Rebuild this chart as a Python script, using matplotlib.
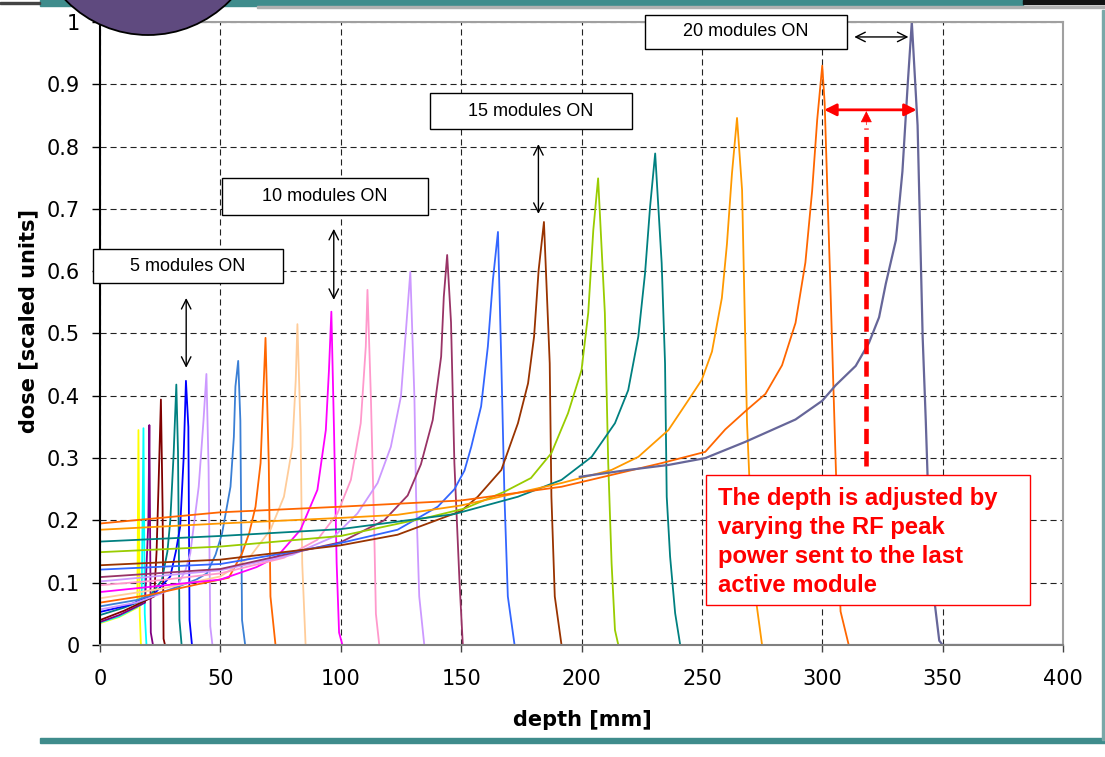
import matplotlib
matplotlib.use("Agg")
import matplotlib.pyplot as plt
from matplotlib.patches import Rectangle, Ellipse

# (depth [mm], dose) pairs, one list per curve
yellow = [(0, 0.035), (8, 0.045), (15.5, 0.06), (15.97, 0.345), (16.5, 0.05), (17, 0), (400, 0)]
cyan = [(0, 0.036), (8, 0.046), (17.3, 0.065), (18.05, 0.348), (18.6, 0.05), (19.3, 0), (400, 0)]
purple = [(0, 0.037), (8, 0.048), (18.7, 0.068), (20.1, 0.2), (20.5, 0.353), (21.1, 0.02), (22, 0), (400, 0)]
maroon = [(0, 0.04), (10, 0.055), (22.5, 0.078), (23.5, 0.15), (24.3, 0.254), (25.3, 0.394),
          (26, 0.22), (26.4, 0.01), (27, 0), (400, 0)]
teal_a = [(0, 0.048), (10, 0.06), (20, 0.075), (25.7, 0.104), (28, 0.15), (29.2, 0.2), (30.6, 0.308),
          (31.7, 0.418), (32.4, 0.31), (33, 0.04), (33.9, 0), (400, 0)]
blue = [(0, 0.053), (12, 0.064), (22, 0.08), (29.2, 0.11), (31.5, 0.15), (33.3, 0.19), (34.7, 0.297),
        (35.7, 0.424), (36.7, 0.35), (37.2, 0.04), (38.2, 0), (400, 0)]
lavender = [(0, 0.057), (15, 0.068), (25, 0.082), (32, 0.094), (35.5, 0.12), (37.5, 0.147), (41, 0.254),
            (43, 0.361), (44.2, 0.435), (45.1, 0.285), (45.8, 0.03), (46.7, 0), (400, 0)]
steel = [(0, 0.062), (15, 0.072), (30, 0.09), (40, 0.105), (44.4, 0.115), (48, 0.145), (50.7, 0.179),
         (54.2, 0.254), (55.6, 0.334), (56.25, 0.415), (57.4, 0.456), (58.3, 0.36), (59, 0.04),
         (60.3, 0), (400, 0)]
dkorange = [(0, 0.068), (20, 0.08), (40, 0.097), (53.5, 0.108), (59, 0.147), (62, 0.18), (64.6, 0.222),
            (66.7, 0.292), (68, 0.42), (68.75, 0.493), (70.1, 0.292), (70.8, 0.078), (72.9, 0), (400, 0)]
peach = [(0, 0.075), (25, 0.09), (50, 0.11), (62, 0.14), (70.8, 0.185), (76.4, 0.238), (79.9, 0.318),
         (81.3, 0.425), (82, 0.515), (83.3, 0.345), (84, 0.131), (85.4, 0), (400, 0)]
magenta = [(0, 0.085), (25, 0.095), (50, 0.105), (65, 0.125), (73.6, 0.142), (83.3, 0.185), (90.3, 0.249),
           (93.8, 0.345), (95.1, 0.441), (96.1, 0.535), (97.2, 0.345), (98.3, 0.131), (99.3, 0.02),
           (100.7, 0), (400, 0)]
pink = [(0, 0.096), (25, 0.104), (50, 0.115), (76.4, 0.14), (90.3, 0.169), (98.6, 0.211), (104.2, 0.265),
        (108.3, 0.356), (110.4, 0.479), (111.1, 0.57), (112.5, 0.4), (113.9, 0.185), (114.6, 0.05),
        (116, 0), (400, 0)]
lilac = [(0, 0.102), (50, 0.12), (80, 0.145), (97.2, 0.174), (106.9, 0.211), (115.3, 0.26), (120.8, 0.318),
         (125, 0.399), (127.1, 0.506), (128.9, 0.599), (130.6, 0.397), (131.3, 0.238), (132.6, 0.078),
         (134.7, 0), (400, 0)]
plum = [(0, 0.109), (50, 0.122), (100, 0.165), (118, 0.2), (127.8, 0.24), (133.3, 0.29), (138.2, 0.361),
        (141.7, 0.463), (142.8, 0.559), (144.2, 0.626), (145.8, 0.518), (147.2, 0.292), (149.3, 0.104),
        (150.7, 0), (400, 0)]
royal = [(0, 0.121), (50, 0.13), (95.8, 0.16), (123.6, 0.185), (140.3, 0.222), (147.2, 0.25), (151.4, 0.28),
         (154.2, 0.318), (158.3, 0.383), (161.1, 0.479), (163.2, 0.586), (165.3, 0.663), (166.7, 0.452),
         (168, 0.238), (169.4, 0.078), (172.2, 0), (400, 0)]
brown = [(0, 0.128), (50, 0.137), (100, 0.16), (123.6, 0.177), (150, 0.215), (156.9, 0.238), (166.7, 0.281),
         (173.6, 0.356), (177.8, 0.42), (180.3, 0.495), (182.2, 0.602), (184.4, 0.679), (186.8, 0.452),
         (187.5, 0.238), (188.9, 0.078), (191.7, 0), (400, 0)]
ygreen = [(0, 0.149), (50, 0.158), (100, 0.175), (137.5, 0.206), (151.4, 0.219), (168, 0.246), (179, 0.268),
          (187.5, 0.308), (194.4, 0.372), (200, 0.441), (202.8, 0.533), (204.9, 0.666), (206.9, 0.749),
          (209.7, 0.533), (211.1, 0.292), (212.5, 0.131), (213.9, 0.024), (215.3, 0), (400, 0)]
teal_b = [(0, 0.166), (50, 0.175), (100, 0.186), (147, 0.21), (173.6, 0.238), (191.7, 0.265), (204.2, 0.302),
          (213.9, 0.356), (219.4, 0.409), (223.6, 0.495), (226.4, 0.597), (228.5, 0.704), (230.6, 0.789),
          (233.3, 0.613), (234.7, 0.452), (235.4, 0.238), (236.8, 0.142), (238.9, 0.051), (241, 0), (400, 0)]
orange = [(0, 0.185), (50, 0.195), (100, 0.204), (123.6, 0.209), (150, 0.224), (191.7, 0.26), (212.5, 0.281),
          (223.6, 0.302), (236.1, 0.345), (244.4, 0.393), (250, 0.426), (254.2, 0.471), (258.3, 0.557),
          (260.4, 0.643), (262.5, 0.757), (264.6, 0.846), (266.7, 0.73), (267.8, 0.53), (268.75, 0.357),
          (269.7, 0.27), (271.5, 0.1), (275, 0), (400, 0)]
orangered = [(0, 0.195), (50, 0.213), (100, 0.222), (150, 0.232), (191.7, 0.254), (212.5, 0.273),
             (233.3, 0.292), (251.4, 0.31), (259.7, 0.346), (268, 0.375), (276.4, 0.403), (283.3, 0.449),
             (288.9, 0.517), (293, 0.614), (295.8, 0.729), (297.9, 0.843), (300, 0.93), (301, 0.87),
             (303.5, 0.56), (305.6, 0.29), (307.6, 0.054), (311, 0), (400, 0)]
slate = [(199.3, 0.27), (219.4, 0.281), (236.1, 0.289), (251.4, 0.3), (268, 0.326), (288.9, 0.362),
         (300, 0.392), (305.6, 0.417), (313.9, 0.448), (319.4, 0.485), (323.6, 0.526), (326.4, 0.58),
         (330.6, 0.65), (333.3, 0.76), (335.5, 0.9), (337.2, 1.0), (339.6, 0.834), (341.7, 0.495),
         (343, 0.36), (345, 0.122), (348.6, 0.007), (350, 0), (400, 0)]

curves = [yellow, cyan, purple, maroon, teal_a, blue, lavender, steel, dkorange, peach, magenta,
          pink, lilac, plum, royal, brown, ygreen, teal_b, orange, orangered, slate]
colors = ["#ffff00", "#00ffff", "#800080", "#800000", "#008080", "#0000ff", "#cc99ff", "#3a7fd5",
          "#ff6600", "#ffcc99", "#ff00ff", "#ff99cc", "#cc99ff", "#993366", "#3366ff", "#993300",
          "#99cc00", "#008080", "#ff9900", "#ff6600", "#666699"]

xticks = [0, 50, 100, 150, 200, 250, 300, 350, 400]
yticks = [0, 0.1, 0.2, 0.3, 0.4, 0.5, 0.6, 0.7, 0.8, 0.9, 1]
ylabels = ["0", "0.1", "0.2", "0.3", "0.4", "0.5", "0.6", "0.7", "0.8", "0.9", "1"]

W, H = 1105, 757
fig = plt.figure(figsize=(W / 100, H / 100), dpi=100)
ax = fig.add_axes([100 / W, 112 / H, 963 / W, 623 / H])

for pts, col in zip(curves, colors):
    d = [p[0] for p in pts]
    v = [p[1] for p in pts]
    ax.plot(d, v, color=col, lw=1.3 if col != "#666699" else 1.6)

ax.set_xlim(0, 400)
ax.set_ylim(0, 1)
ax.set_xticks(xticks)
ax.set_yticks(yticks)
ax.set_yticklabels(ylabels)
ax.set_axisbelow(True)
ax.grid(True, color="#222222", lw=0.8, linestyle=(0, (5.5, 3.5)))
ax.tick_params(axis="y", direction="out", length=6, width=1, pad=8.5, labelsize=15)
ax.tick_params(axis="x", direction="out", length=5, width=1, pad=12, labelsize=15, color="#444444")

ax.spines["left"].set_color("black")
ax.spines["left"].set_linewidth(1.5)
ax.spines["bottom"].set_color("#808080")
ax.spines["bottom"].set_linewidth(1.5)
for s in ["top", "right"]:
    ax.spines[s].set_color("#a0a0a0")
    ax.spines[s].set_linewidth(1.5)

fig.text(28 / W, 1 - 321 / H, "dose [scaled units]", rotation=90, ha="center", va="center",
         fontsize=15, fontweight="bold")
fig.text(582 / W, 1 - 720 / H, "depth [mm]", ha="center", va="center", fontsize=15, fontweight="bold")


# boxes placed in pixel coordinates of the slide
def box(x0, y0, x1, y1, label):
    fig.add_artist(Rectangle((x0 / W, 1 - y1 / H), (x1 - x0) / W, (y1 - y0) / H, transform=fig.transFigure,
                             facecolor="white", edgecolor="black", lw=1, zorder=5))
    fig.text((x0 + x1) / 2 / W, 1 - (y0 + y1) / 2 / H, label, ha="center", va="center",
             fontsize=13, family="Liberation Sans", zorder=6)


box(93, 249, 283, 283, "5 modules ON")
box(222, 178, 428, 215, "10 modules ON")
box(430, 93, 632, 129, "15 modules ON")
box(645, 15, 847, 49, "20 modules ON")

# black arrows
arr = dict(arrowstyle="<->", color="black", lw=1, mutation_scale=17, shrinkA=0, shrinkB=0)
ax.annotate("", xy=(35.8, 0.445), xytext=(35.8, 0.557), arrowprops=arr, annotation_clip=False)
ax.annotate("", xy=(97.1, 0.554), xytext=(97.1, 0.668), arrowprops=arr, annotation_clip=False)
ax.annotate("", xy=(182.1, 0.692), xytext=(182.1, 0.804), arrowprops=arr, annotation_clip=False)
ax.annotate("", xy=(335.8, 0.976), xytext=(313.3, 0.976), arrowprops=arr, annotation_clip=False)

# red arrows
ax.annotate("", xy=(339.2, 0.859), xytext=(300.8, 0.859),
            arrowprops=dict(arrowstyle="<|-|>", color="#ff0000", lw=2, mutation_scale=18,
                            shrinkA=0, shrinkB=0), zorder=7)
ax.plot([318.3, 318.3], [0.287, 0.83], color="#ff0000", lw=3.3, linestyle=(0, (3.3, 1.6)), zorder=7,
        solid_capstyle="butt")
ax.annotate("", xy=(318.3, 0.857), xytext=(318.3, 0.835),
            arrowprops=dict(arrowstyle="-|>", color="#ff0000", lw=0.5, mutation_scale=18,
                            shrinkA=0, shrinkB=0), zorder=7)

# red note
fig.add_artist(Rectangle((706 / W, 1 - 605 / H), 324 / W, 130 / H, transform=fig.transFigure,
                         facecolor="white", edgecolor="#ff0000", lw=1, zorder=5))
note = ["The depth is adjusted by", "varying the RF peak", "power sent to the last", "active module"]
for i, line in enumerate(note):
    fig.text(718 / W, 1 - (505 + 29 * i) / H, line, ha="left", va="baseline", fontsize=17.2,
             fontweight="bold", family="Liberation Sans", color="#ff0000", zorder=6)

# slide decorations
fig.add_artist(Rectangle((40 / W, 1 - 6 / H), 983 / W, 6 / H, transform=fig.transFigure,
                         color="#3f8c8c", zorder=8))
fig.add_artist(Rectangle((1023 / W, 1 - 4 / H), 82 / W, 4 / H, transform=fig.transFigure,
                         color="#111111", zorder=8))
fig.add_artist(Rectangle((0, 1 - 4 / H), 40 / W, 2 / H, transform=fig.transFigure,
                         color="#444444", zorder=8))
fig.add_artist(Rectangle((257 / W, 1 - 8 / H), 848 / W, 2 / H, transform=fig.transFigure,
                         color="#b0b0b0", zorder=8))
fig.add_artist(Rectangle((40 / W, 1 - 743 / H), (W - 40) / W, 5 / H, transform=fig.transFigure,
                         color="#3f8c8c", zorder=8))
fig.add_artist(Rectangle((1102 / W, 1 - 740 / H), 2 / W, 730 / H, transform=fig.transFigure,
                         color="#7aa8a8", zorder=8))
fig.add_artist(Ellipse((148 / W, 1 + 79.7 / H), 2 * 114.7 / W, 2 * 114.7 / H, transform=fig.transFigure,
                       facecolor="#5f4a7f", edgecolor="black", lw=1.3, zorder=10))

fig.savefig("out.png", dpi=100)
